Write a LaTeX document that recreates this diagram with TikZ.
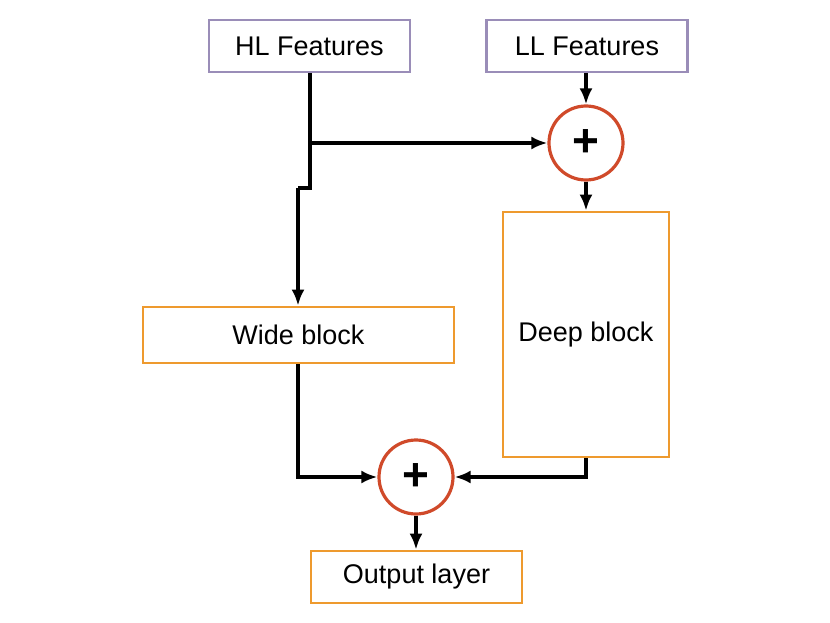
\documentclass[tikz,border=0pt]{standalone}
\usepackage{fontspec}
\setmainfont{Liberation Sans}
\usetikzlibrary{arrows.meta}
\definecolor{purp}{HTML}{9A8DB8}
\definecolor{orng}{HTML}{EE9A2E}
\definecolor{redc}{HTML}{D04A2A}
\begin{document}
\begin{tikzpicture}[x=1pt,y=-1pt,
  feat/.style={draw=purp,line width=2.8pt,minimum width=201pt,minimum height=52pt,inner sep=0pt,font=\fontsize{27}{32}\selectfont},
  blk/.style={draw=orng,line width=2.8pt,inner sep=0pt,font=\fontsize{27}{32}\selectfont},
  plus/.style={draw=redc,line width=3.2pt,circle,minimum size=74pt,inner sep=0pt,font=\fontsize{46}{46}\selectfont\bfseries},
  conn/.style={line width=3.2pt,-{Latex[length=16pt,width=13pt]}}]
\useasboundingbox (0,0) rectangle (830,623);
\node[feat] (hl) at (309.5,46) {HL Features};
\node[feat] (ll) at (587,46) {LL Features};
\node[plus] (p1) at (586,143) {+};
\node[blk,minimum width=166pt,minimum height=245pt] (deep) at (586,334.5) {Deep block};
\node[blk,minimum width=311pt,minimum height=56pt] (wide) at (298.5,335) {Wide block};
\node[plus] (p2) at (416,477) {+};
\node[blk,minimum width=211pt,minimum height=52pt] (out) at (416.5,577) {Output layer};
\coordinate (j) at (310,143);
\draw[line width=3.2pt] (hl.south -| j) -- (310,188) -- (298,188) coordinate (k);
\draw[conn] (k) -- (wide.north -| k);
\draw[conn] (j) -- (p1.west);
\draw[conn] (ll.south -| p1) -- (p1.north);
\draw[conn] (p1.south) -- (deep.north);
\draw[conn] (wide.south -| k) |- (p2.west);
\draw[conn] (deep.south) |- (p2.east);
\draw[conn] (p2.south) -- (out.north -| p2);
\end{tikzpicture}
\end{document}
